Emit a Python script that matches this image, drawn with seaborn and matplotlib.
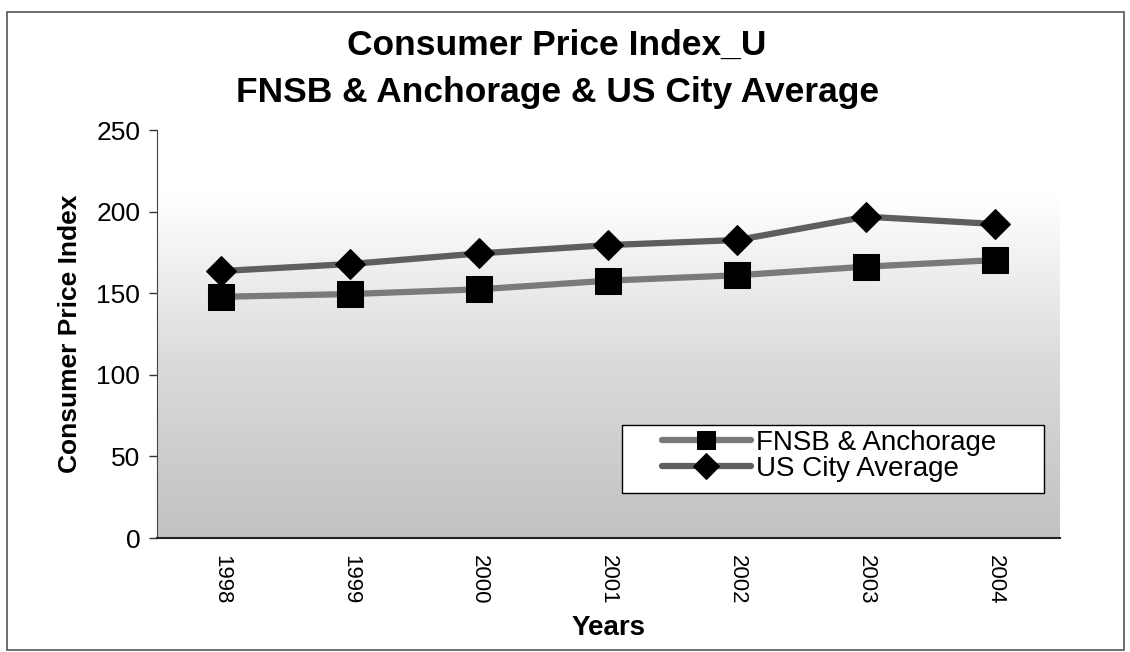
import numpy as np
import pandas as pd
import matplotlib
matplotlib.use("Agg")
import matplotlib.pyplot as plt
import seaborn as sns
from matplotlib.patches import Rectangle

# Data
years = [1998, 1999, 2000, 2001, 2002, 2003, 2004]
fnsb = [147.8, 149.5, 152.4, 157.7, 161.0, 166.3, 170.3]
us_city = [163.6, 167.9, 174.4, 179.5, 182.6, 196.9, 192.4]
series_names = ["FNSB & Anchorage", "US City Average"]
y_ticks = [0, 50, 100, 150, 200, 250]

sns.set_style("white")
plt.rcParams['font.family'] = ['Liberation Sans', 'DejaVu Sans']
plt.rcParams['text.color'] = 'black'
plt.rcParams['axes.labelcolor'] = 'black'
plt.rcParams['xtick.color'] = 'black'
plt.rcParams['ytick.color'] = 'black'

fig = plt.figure(figsize=(11.3, 6.52), dpi=100)
ax = fig.add_axes([0.1389, 0.1748, 0.799, 0.6258])

# Gradient background: white at top fading to gray at the bottom
grad = np.linspace(0, 1, 256).reshape(-1, 1)
grad = np.clip(grad / 0.84, 0, 1)
ax.imshow(grad, extent=[1997.5, 2004.5, 0, 250], origin='lower', aspect='auto',
          cmap=matplotlib.colors.LinearSegmentedColormap.from_list(
              "bg", ["#c2c2c2", "#dadada", "#ffffff"]), zorder=0)

sns.lineplot(x=years, y=fnsb, color='#7a7a7a', lw=4.5, marker='s', markersize=19,
             markerfacecolor='black', markeredgecolor='black',
             label=series_names[0], ax=ax, zorder=3)
sns.lineplot(x=years, y=us_city, color='#5e5e5e', lw=4.5, marker='D', markersize=15,
             markerfacecolor='black', markeredgecolor='black',
             label=series_names[1], ax=ax, zorder=3)

ax.set_xlim(1997.5, 2004.5)
ax.set_ylim(0, 250)
ax.set_yticks(y_ticks)
ax.set_yticklabels([str(t) for t in y_ticks], fontsize=19)
ax.set_xticks(years)
ax.set_xticklabels([str(y) for y in years], rotation=270, fontsize=16)
ax.set_xticks([y - 0.5 for y in years] + [2004.5], minor=True)
ax.tick_params(axis='x', which='major', length=0, pad=12)
ax.tick_params(axis='x', which='minor', length=6, width=1, color='#333333', direction='out')
ax.tick_params(axis='y', length=6, width=1, color='#333333', direction='out', left=True, pad=6)

for side in ['top', 'right']:
    ax.spines[side].set_visible(False)
ax.spines['left'].set_color('#444444')
ax.spines['bottom'].set_color('#222222')
ax.spines['bottom'].set_linewidth(1.5)

ax.set_xlabel("Years", fontsize=20, fontweight='bold', labelpad=8)
ax.set_ylabel("Consumer Price Index", fontsize=19, fontweight='bold', labelpad=10)

fig.text(0.493, 0.93, "Consumer Price Index_U", ha='center', va='center',
         fontsize=25.5, fontweight='bold')
fig.text(0.493, 0.858, "FNSB & Anchorage & US City Average", ha='center', va='center',
         fontsize=25.5, fontweight='bold')

# legend box drawn separately so it can have the wide padding of the original
ax.add_patch(Rectangle((0.515, 0.110), 0.468, 0.167, transform=ax.transAxes,
                       facecolor='white', edgecolor='black', lw=1.0, zorder=4))
leg = ax.legend(loc='upper left', bbox_to_anchor=(0.550, 0.285), fontsize=20,
                frameon=False, handlelength=3.2, borderpad=0.3, labelspacing=0.0,
                handletextpad=0.2, borderaxespad=0)
leg.set_zorder(5)
for h in leg.legend_handles:
    h.set_markersize(13)

# outer border of the chart
fig.patches.append(Rectangle((0.006, 0.003), 0.989, 0.979, transform=fig.transFigure,
                             fill=False, edgecolor='#555555', lw=1.2))

fig.savefig("out.png", dpi=100)
